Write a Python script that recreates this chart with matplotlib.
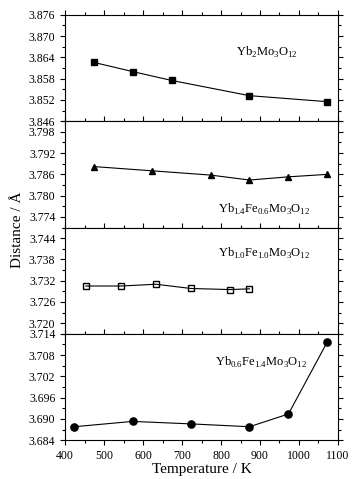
import matplotlib
matplotlib.use('Agg')
import matplotlib.pyplot as plt
from matplotlib.ticker import MultipleLocator

plt.rcParams['font.family'] = ['Liberation Serif', 'DejaVu Serif']
plt.rcParams['mathtext.fontset'] = 'custom'
plt.rcParams['mathtext.rm'] = 'Liberation Serif'

# Yb2Mo3O12
t1 = [473, 573, 673, 873, 1073]
d1 = [3.8626, 3.8600, 3.8575, 3.8532, 3.8515]
# Yb1.4Fe0.6Mo3O12
t2 = [473, 623, 773, 873, 973, 1073]
d2 = [3.7882, 3.7870, 3.7858, 3.7844, 3.7853, 3.7860]
e2 = [0.0005, 0.0005, 0.0005, 0.0005, 0.0005, 0.0005]
# Yb1.0Fe1.0Mo3O12
t3 = [453, 543, 633, 723, 823, 873]
d3 = [3.7305, 3.7305, 3.7310, 3.7298, 3.7295, 3.7297]
# Yb0.6Fe1.4Mo3O12
t4 = [423, 573, 723, 873, 973, 1073]
d4 = [3.6878, 3.6893, 3.6886, 3.6878, 3.6914, 3.7118]

names = [r'Yb$_2$Mo$_3$O$_{12}$',
         r'Yb$_{1.4}$Fe$_{0.6}$Mo$_3$O$_{12}$',
         r'Yb$_{1.0}$Fe$_{1.0}$Mo$_3$O$_{12}$',
         r'Yb$_{0.6}$Fe$_{1.4}$Mo$_3$O$_{12}$']
ylims = [(3.846, 3.876), (3.771, 3.801), (3.717, 3.747), (3.684, 3.714)]
yticks = [[3.846, 3.852, 3.858, 3.864, 3.870, 3.876],
          [3.774, 3.780, 3.786, 3.792, 3.798],
          [3.720, 3.726, 3.732, 3.738, 3.744],
          [3.684, 3.690, 3.696, 3.702, 3.708, 3.714]]
series = [(t1, d1, 's', 'k'), (t2, d2, '^', 'k'), (t3, d3, 's', 'none'), (t4, d4, 'o', 'k')]
label_pos = [(0.74, 0.65), (0.73, 0.17), (0.73, 0.76), (0.72, 0.73)]

fig, axes = plt.subplots(4, 1, figsize=(3.58, 4.79), dpi=100, sharex=True)
fig.subplots_adjust(left=0.182, right=0.944, bottom=0.081, top=0.969, hspace=0)

for i, ax in enumerate(axes):
    t, d, m, fc = series[i]
    if i == 1:
        ax.errorbar(t, d, yerr=e2, color='k', lw=0.8, elinewidth=0.8, capsize=0,
                    marker=m, markersize=5, markerfacecolor=fc, markeredgecolor='k')
    else:
        ax.plot(t, d, color='k', lw=0.8, marker=m, markersize=4.8 if m != 'o' else 5.2,
                markerfacecolor=fc, markeredgecolor='k', markeredgewidth=1.0)
    ax.set_ylim(*ylims[i])
    ax.set_yticks(yticks[i])
    ax.set_yticklabels([f'{v:.3f}' for v in yticks[i]])
    ax.yaxis.set_minor_locator(MultipleLocator(0.003))
    ax.set_xlim(400, 1100)
    ax.xaxis.set_major_locator(MultipleLocator(100))
    ax.xaxis.set_minor_locator(MultipleLocator(50))
    ax.tick_params(which='both', direction='out', top=True, right=True,
                   labelsize=8.5, width=0.8)
    ax.tick_params(which='major', length=3.5)
    ax.tick_params(which='minor', length=2)
    for s in ax.spines.values():
        s.set_linewidth(0.8)
    ax.text(label_pos[i][0], label_pos[i][1], names[i], transform=ax.transAxes,
            ha='center', va='center', fontsize=9)

axes[-1].set_xlabel('Temperature / K', fontsize=11, labelpad=1)
fig.text(0.05, 0.52, 'Distance / Å', rotation=90, ha='center', va='center', fontsize=11)

fig.savefig('out.png', dpi=100)
